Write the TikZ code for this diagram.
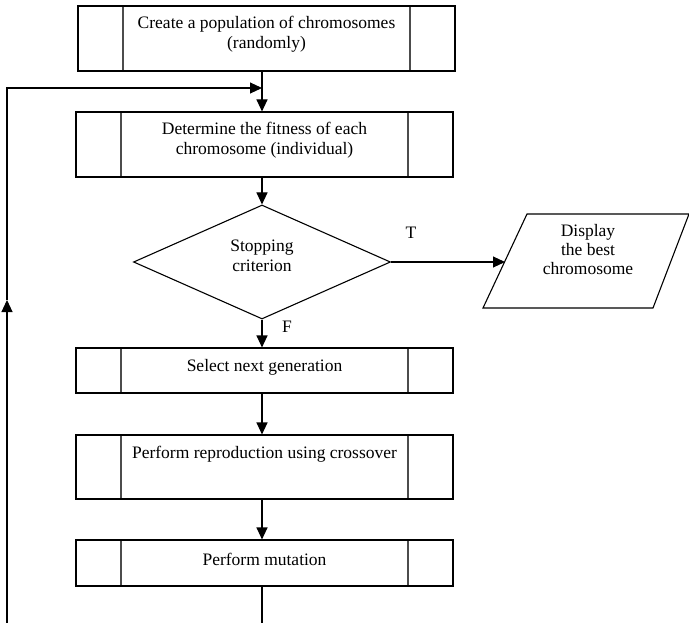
\documentclass[tikz,border=0pt]{standalone}
\usepackage{fontspec}
\setmainfont{Liberation Serif}
\usetikzlibrary{arrows.meta,shapes.geometric}
\begin{document}
\begin{tikzpicture}[x=1pt,y=-1pt,
  line width=1.1pt,
  every node/.style={font=\fontsize{17.5}{20}\selectfont, align=center, inner sep=0pt},
  procbox/.style={draw, minimum width=377pt, minimum height=#1,
    path picture={
      \draw[gray!60!black, line width=1.1pt]
        ([xshift=45pt]path picture bounding box.north west) --
        ([xshift=45pt]path picture bounding box.south west)
        ([xshift=-45pt]path picture bounding box.north east) --
        ([xshift=-45pt]path picture bounding box.south east);
    }},
  flow/.style={-{Triangle[length=12pt,width=11pt]}},
  tlabel/.style={font=\fontsize{17.5}{19}\selectfont}
]
\useasboundingbox (0,0) rectangle (689,623);

% process boxes
\node[procbox=65pt] (b1) at (266.5,38.5) {};
\node at (266.5,34) {Create a population of chromosomes\\(randomly)};

\node[procbox=65pt] (b2) at (264.5,144.5) {};
\node at (264.5,140) {Determine the fitness of each\\chromosome (individual)};

% decision
\node[diamond, draw, minimum width=257pt, minimum height=114pt] (dia) at (262,262) {};
\node at (262,256) {Stopping\\criterion};

\node[procbox=45pt] (b3) at (264.5,370.5) {};
\node at (264.5,367) {Select next generation};

\node[procbox=64pt] (b4) at (264.5,467) {};
\node at (264.5,454) {Perform reproduction using crossover};

\node[procbox=46pt] (b5) at (264.5,563) {};
\node at (264.5,559) {Perform mutation};

% output parallelogram
\draw (527,214) -- (689,214) -- (653,308) -- (483,308) -- cycle;
\node[tlabel] (disp) at (588,250) {Display\\the best\\chromosome};
\coordinate (dispin) at (505,262);

% branch labels
\node (tl) at (411,233) {T};
\node (fl) at (287,327) {F};

% main flow
\draw[flow] (b1.south -| dia) -- (b2.north -| dia);
\draw[flow] (b2.south -| dia) -- (dia.north);
\draw[flow] (dia.east) -- (dispin);
\draw[flow] (dia.south) -- (b3.north -| dia);
\draw[flow] (b3.south -| dia) -- (b4.north -| dia);
\draw[flow] (b4.south -| dia) -- (b5.north -| dia);

% loop back to the fitness step
\coordinate (mutend) at (262,623);
\coordinate (loopbot) at (7,623);
\coordinate (loopmid) at (7,300);
\coordinate (loopcorner) at (7,88);
\coordinate (join) at (262,88);
\draw (b5.south -| dia) -- (mutend);
\draw[flow] (loopbot) -- (loopmid);
\draw[flow] (loopmid) -- (loopcorner) -- (join);
\end{tikzpicture}
\end{document}
